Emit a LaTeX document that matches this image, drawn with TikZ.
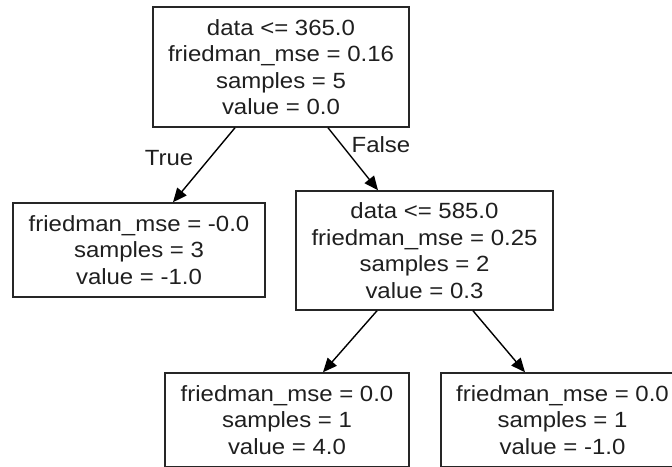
\documentclass[tikz,border=0pt]{standalone}
\usepackage{fontspec}
\setmainfont[FakeStretch=1.09]{Liberation Sans}
\usetikzlibrary{arrows.meta}
\begin{document}
\begin{tikzpicture}[x=1pt,y=1pt,
  tbox/.style={draw=black!85,line width=1.5pt,rectangle,align=center,inner sep=0pt,
    font=\fontsize{22}{26.5}\selectfont,text=black!88},
  arr/.style={draw=black,line width=1.4pt,-{Triangle[length=14pt,width=12pt]}},
  elab/.style={font=\fontsize{22}{26.5}\selectfont,text=black!88,inner sep=0pt}]
\useasboundingbox (0,0) rectangle (672,-466);
\clip (0,0) rectangle (672,-466);
\node[tbox,minimum width=256pt,minimum height=120pt] (root) at (281,-67)
  {data <= 365.0\\friedman\_mse = 0.16\\samples = 5\\value = 0.0};
\node[tbox,minimum width=252pt,minimum height=94pt] (left) at (139,-250)
  {friedman\_mse = -0.0\\samples = 3\\value = -1.0};
\node[tbox,minimum width=257pt,minimum height=119pt] (right) at (424.5,-250.5)
  {data <= 585.0\\friedman\_mse = 0.25\\samples = 2\\value = 0.3};
\node[tbox,minimum width=244pt,minimum height=94pt] (bl) at (287,-420)
  {friedman\_mse = 0.0\\samples = 1\\value = 4.0};
\node[tbox,minimum width=243pt,minimum height=94pt] (br) at (562.5,-420)
  {friedman\_mse = 0.0\\samples = 1\\value = -1.0};
\draw[arr] ([xshift=-46pt]root.south) -- ([xshift=34pt]left.north);
\draw[arr] ([xshift=47pt]root.south) -- ([xshift=-46.5pt]right.north);
\draw[arr] ([xshift=-47.5pt]right.south) -- ([xshift=36pt]bl.north);
\draw[arr] ([xshift=48.5pt]right.south) -- ([xshift=-37.5pt]br.north);
\node[elab] (t) at (169,-158) {True};
\node[elab] (f) at (381,-145) {False};
\end{tikzpicture}
\end{document}
